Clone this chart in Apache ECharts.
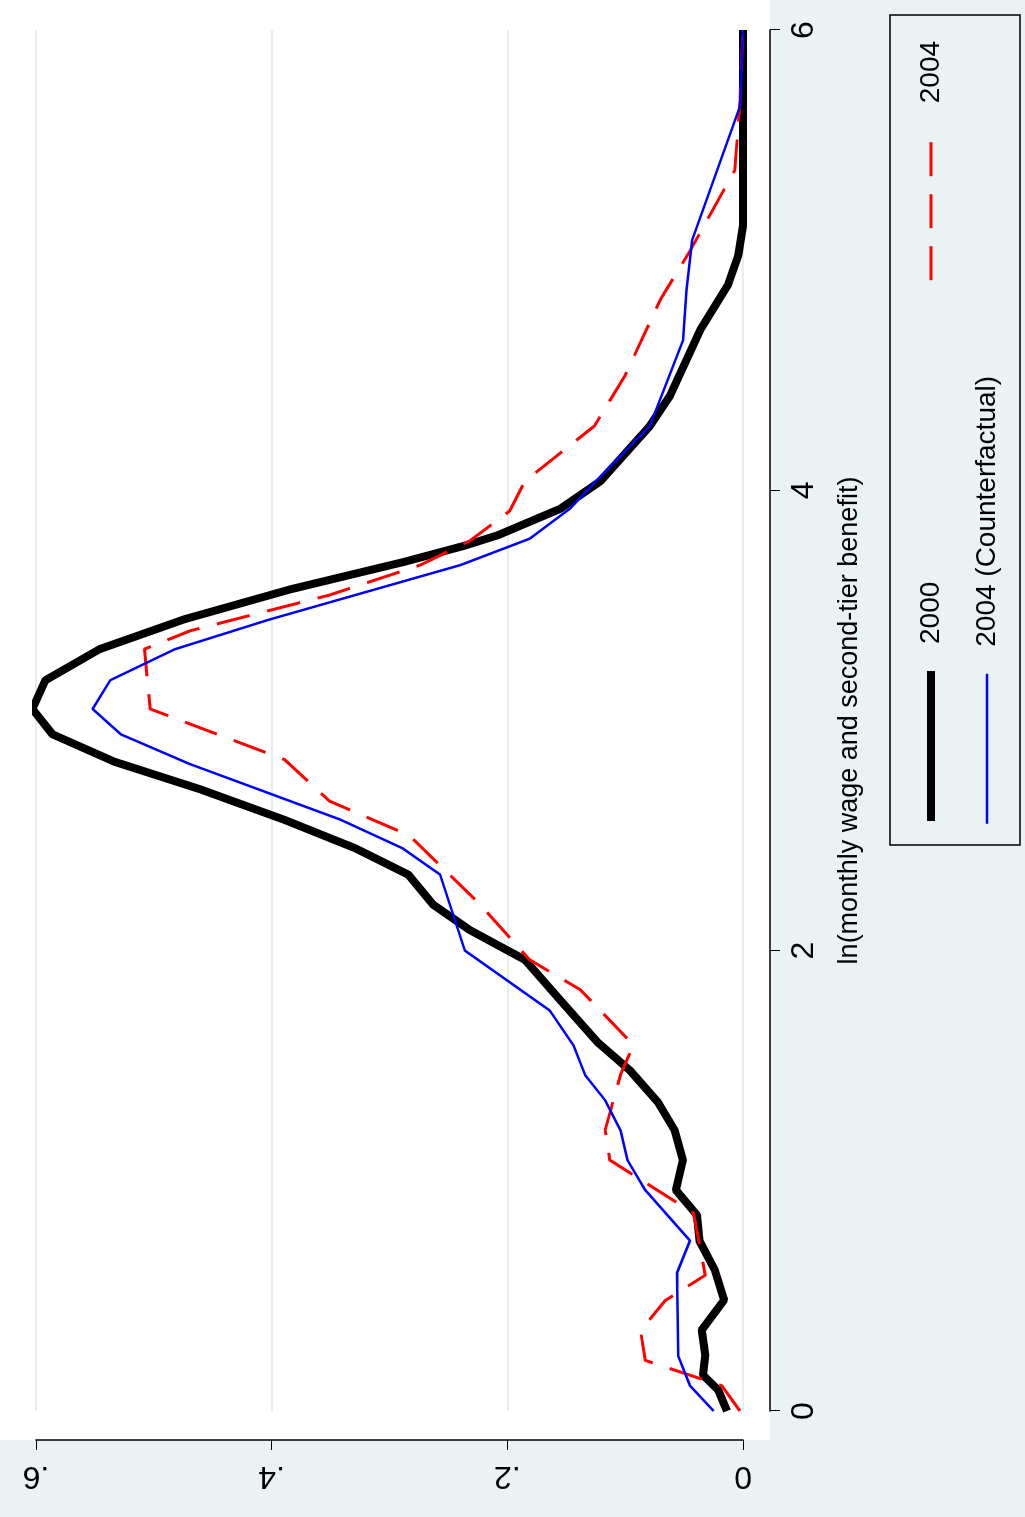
<!DOCTYPE html>
<html>
<head>
<meta charset="utf-8">
<script src="https://cdn.jsdelivr.net/npm/echarts@6/dist/echarts.min.js"></script>
<style>
body { margin: 0; background: #eaf2f3; overflow: hidden; }
#wrap { position: absolute; left: 0; top: 0; width: 1517px; height: 1025px;
        transform-origin: 0 0; transform: translate(0, 1517px) rotate(-90deg); }
#plotbg { position: absolute; left: 77px; top: 0; width: 1440px; height: 770px; background: #fff; }
#chart { position: absolute; left: 0; top: 0; width: 1517px; height: 1025px; }
</style>
</head>
<body>
<div id="wrap"><div id="plotbg"></div><div id="chart"></div></div>
<script>
// [ln wage, density]
var s2000 = [[0,.0136],[.091,.021],[.156,.034],[.243,.032],[.352,.035],[.482,.016],[.613,.024],[.74,.037],[.851,.039],[.96,.057],[1.09,.051],[1.22,.058],[1.34,.072],[1.48,.096],[1.60,.123],[1.785,.155],[1.96,.185],[2.09,.232],[2.20,.263],[2.33,.284],[2.445,.329],[2.57,.39],[2.70,.46],[2.82,.533],[2.94,.586],[3.05,.603],[3.175,.592],[3.31,.546],[3.44,.474],[3.57,.384],[3.69,.287],[3.76,.236],[3.805,.208],[3.92,.155],[4.04,.121],[4.28,.079],[4.41,.062],[4.70,.036],[4.89,.013],[5.02,.004],[5.15,0],[6,0]];
var s2004 = [[0,.0025],[.11,.018],[.22,.083],[.35,.087],[.48,.066],[.59,.032],[.86,.042],[1.09,.113],[1.22,.117],[1.46,.104],[1.59,.093],[1.83,.138],[1.96,.181],[2.2,.223],[2.5,.283],[2.65,.351],[2.83,.389],[3.05,.503],[3.31,.508],[3.39,.469],[3.545,.351],[3.675,.274],[3.78,.232],[3.91,.198],[4.04,.185],[4.28,.126],[4.5,.1],[4.83,.07],[5.04,.045],[5.39,.007],[5.69,.0025],[6,0]];
var sCounter = [[0,.025],[.11,.045],[.24,.055],[.6,.056],[.74,.045],[.96,.083],[1.09,.098],[1.22,.104],[1.35,.117],[1.46,.134],[1.59,.144],[1.74,.164],[2.0,.236],[2.33,.257],[2.445,.289],[2.57,.342],[2.81,.469],[2.94,.528],[3.05,.552],[3.175,.537],[3.31,.482],[3.44,.401],[3.675,.24],[3.79,.181],[3.92,.147],[4.05,.123],[4.28,.079],[4.65,.051],[4.87,.048],[5.09,.043],[5.67,.0025],[6,0]];

var myChart = echarts.init(document.getElementById('chart'));
var option = {
    animation: false,
    textStyle: { fontFamily: 'Liberation Sans, Arial, sans-serif' },
    grid: { left: 106, right: 30, top: 36, bottom: 282 },
    xAxis: {
        type: 'value', min: 0, max: 6, interval: 2, offset: 27, position: 'bottom',
        name: 'ln(monthly wage and second-tier benefit)',
        nameLocation: 'middle', nameGap: 66,
        nameTextStyle: { fontSize: 27, color: '#000' },
        axisLine: { onZero: false, lineStyle: { color: '#000', width: 1.5 } },
        axisTick: { length: 10, lineStyle: { color: '#000' } },
        axisLabel: { fontSize: 32, color: '#000', margin: 18 },
        splitLine: { show: false }
    },
    yAxis: {
        type: 'value', min: 0, max: 0.6, interval: 0.2, offset: 29, position: 'left',
        axisLine: { show: true, onZero: false, lineStyle: { color: '#000', width: 1.5 } },
        axisTick: { show: true, length: 10, lineStyle: { color: '#000' } },
        axisLabel: { fontSize: 32, color: '#000', rotate: 90, margin: 20,
            formatter: function (v) { return v === 0 ? '0' : String(+v.toFixed(1)).replace('0.', '.'); } },
        splitLine: { lineStyle: { color: '#e3eef0', width: 2 } }
    },
    legend: [
        { left: 687, top: 912, itemWidth: 150, itemHeight: 20, itemGap: 300,
          itemStyle: { opacity: 0 },
          textStyle: { fontSize: 28, color: '#000', padding: [0, 0, 0, 22] },
          data: [{ name: '2000', lineStyle: { width: 8 } }, { name: '2004', lineStyle: { width: 3 } }] },
        { left: 687, top: 968, itemWidth: 150, itemHeight: 20,
          itemStyle: { opacity: 0 },
          textStyle: { fontSize: 28, color: '#000', padding: [0, 0, 0, 22] },
          data: [{ name: '2004 (Counterfactual)', lineStyle: { width: 2.5 } }] }
    ],
    graphic: [{ type: 'rect', shape: { x: 672, y: 890, width: 830, height: 130 },
                style: { fill: 'none', stroke: '#000', lineWidth: 1.5 } }],
    series: [
        { name: '2000', type: 'line', data: s2000, symbol: 'none',
          lineStyle: { color: '#000', width: 8 }, itemStyle: { color: '#000' } },
        { name: '2004', type: 'line', data: s2004, symbol: 'none',
          lineStyle: { color: '#ff0000', width: 3, type: [34, 18] }, itemStyle: { color: '#ff0000' } },
        { name: '2004 (Counterfactual)', type: 'line', data: sCounter, symbol: 'none',
          lineStyle: { color: '#0000ff', width: 2.5 }, itemStyle: { color: '#0000ff' } }
    ]
};
myChart.setOption(option);
</script>
</body>
</html>
